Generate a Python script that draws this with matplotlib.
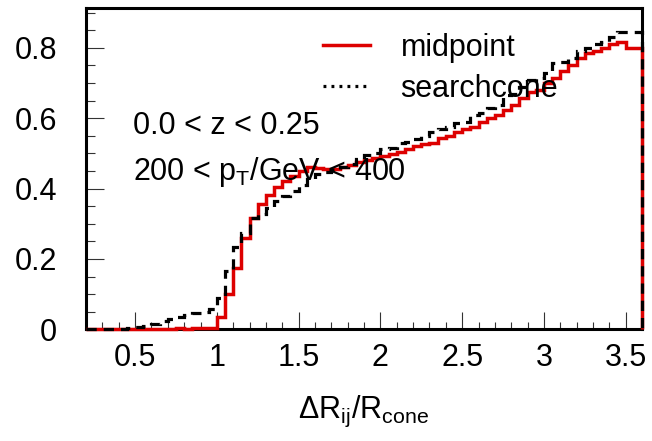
import numpy as np
import matplotlib
matplotlib.use('Agg')
import matplotlib.pyplot as plt
from matplotlib.lines import Line2D
from matplotlib.ticker import MultipleLocator, FuncFormatter

plt.rcParams['font.family'] = ['Liberation Sans', 'DejaVu Sans']
plt.rcParams['mathtext.fontset'] = 'custom'
plt.rcParams['mathtext.rm'] = 'Liberation Sans'
plt.rcParams['mathtext.it'] = 'Liberation Sans:italic'

# histogram binning in dR/Rcone
x_lo, x_hi, n_bins = 0.2, 3.6, 68
edges = np.linspace(x_lo, x_hi, n_bins + 1)

midpoint = [0.0, 0.0, 0.001, 0.0, 0.001, 0.001, 0.002, 0.001, 0.002, 0.002,
            0.002, 0.003, 0.002, 0.003, 0.003, 0.005,
            0.036, 0.099, 0.175, 0.26, 0.315, 0.355, 0.383, 0.403, 0.421, 0.437,
            0.45, 0.462, 0.458, 0.455, 0.455, 0.46, 0.468, 0.475, 0.48, 0.486,
            0.493, 0.498, 0.505, 0.512, 0.52, 0.527, 0.53, 0.543, 0.55, 0.561,
            0.568, 0.576, 0.59, 0.6, 0.609, 0.623, 0.637, 0.656, 0.675, 0.68,
            0.70, 0.713, 0.735, 0.75, 0.77, 0.784, 0.79, 0.798, 0.81, 0.817,
            0.80, 0.798]

searchcone = [0.0, 0.0, 0.0, 0.001, 0.002, 0.003, 0.006, 0.009, 0.015, 0.024,
              0.029, 0.034, 0.04, 0.045, 0.05, 0.057,
              0.09, 0.165, 0.235, 0.275, 0.315, 0.328, 0.345, 0.365, 0.38, 0.393,
              0.41, 0.428, 0.44, 0.448, 0.452, 0.462, 0.47, 0.483, 0.495, 0.502,
              0.511, 0.515, 0.528, 0.532, 0.54, 0.55, 0.561, 0.57, 0.576, 0.585,
              0.59, 0.609, 0.615, 0.63, 0.637, 0.666, 0.67, 0.689, 0.708, 0.715,
              0.727, 0.756, 0.76, 0.77, 0.79, 0.798, 0.81, 0.815, 0.83, 0.845,
              0.845, 0.845]

fig = plt.figure(figsize=(6.52, 4.41), dpi=100)
ax = fig.add_axes([0.132, 0.2533, 0.8527, 0.7278])

ax.stairs(midpoint, edges, baseline=0, color='#dd0000', lw=2.5, zorder=3,
          clip_on=False)
ax.stairs(searchcone, edges, baseline=0, color='black', lw=2.3, zorder=4,
          linestyle=(0, (3.2, 2.2)), clip_on=False)

ax.set_xlim(x_lo, x_hi)
ax.set_ylim(0, 0.912)

ax.xaxis.set_major_locator(MultipleLocator(0.5))
ax.xaxis.set_minor_locator(MultipleLocator(0.1))
ax.yaxis.set_major_locator(MultipleLocator(0.2))
ax.yaxis.set_minor_locator(MultipleLocator(0.05))
fmt = FuncFormatter(lambda v, p: f'{v:g}')
ax.xaxis.set_major_formatter(fmt)
ax.yaxis.set_major_formatter(fmt)

ax.tick_params(which='both', direction='in', top=False, right=False,
               labelsize=22, width=0.8, color='#333333')
ax.tick_params(axis='x', which='major', length=12.2, pad=10)
ax.tick_params(axis='x', which='minor', length=5.4)
ax.tick_params(axis='y', which='major', length=13, pad=21)
ax.tick_params(axis='y', which='minor', length=6.5)
for s in ax.spines.values():
    s.set_linewidth(2.2)

ax.set_xlabel(r'$\Delta$R$_{\mathrm{ij}}$/R$_{\mathrm{cone}}$', fontsize=22)
ax.xaxis.set_label_coords(0.5, -0.2)

ax.text(0.0845, 0.608, '0.0 < z < 0.25', transform=ax.transAxes,
        fontsize=22, va='baseline')
ax.text(0.0845, 0.465, r'200 < p$_{\mathrm{T}}$/GeV < 400',
        transform=ax.transAxes, fontsize=22, va='baseline')

handles = [Line2D([], [], color='#dd0000', lw=2.5),
           Line2D([], [], color='black', lw=2.3, linestyle=(0, (0.9, 1.6)))]
ax.legend(handles, ['midpoint', 'searchcone'], loc='upper left',
          bbox_to_anchor=(0.387, 0.99), frameon=False, fontsize=22,
          handlelength=1.55, handletextpad=1.0, labelspacing=0.36,
          borderpad=0.2)

fig.savefig('out.png', dpi=100)
